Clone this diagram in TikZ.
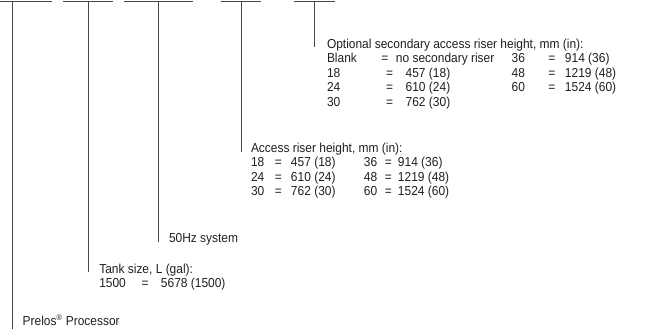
\documentclass[tikz,border=0pt]{standalone}
\usepackage{fontspec}
\setmainfont{Liberation Sans}[FakeStretch=0.92]
\begin{document}
\begin{tikzpicture}[x=1pt,y=-1pt]
\tikzset{
  lead/.style={draw=black!72, line width=0.9pt},
  lbl/.style={anchor=base west, inner sep=0pt, outer sep=0pt, font=\fontsize{13}{14.5}\selectfont, text=black!88}
}
\useasboundingbox (0,0) rectangle (649,329);
% top bars
\coordinate (b1w) at (0,1.5);     \coordinate (b1e) at (52,1.5);
\coordinate (b2w) at (63.3,1.5);  \coordinate (b2e) at (113.3,1.5);
\coordinate (b3w) at (124,1.5);   \coordinate (b3e) at (192.7,1.5);
\coordinate (b4w) at (220.7,1.5); \coordinate (b4e) at (260.7,1.5);
\coordinate (b5w) at (294,1.5);   \coordinate (b5e) at (335,1.5);
\draw[lead] (b1w) -- (b1e);
\draw[lead] (b2w) -- (b2e);
\draw[lead] (b3w) -- (b3e);
\draw[lead] (b4w) -- (b4e);
\draw[lead] (b5w) -- (b5e);
% leader tops and ends
\coordinate (t1) at (12.7,1.5);  \coordinate (e1) at (12.7,329);
\coordinate (t2) at (88.3,1.5);  \coordinate (e2) at (88.3,272);
\coordinate (t3) at (158,1.5);   \coordinate (e3) at (158,242);
\coordinate (t4) at (241,1.5);   \coordinate (e4) at (241,152);
\coordinate (t5) at (314.5,1.5); \coordinate (e5) at (314.5,47);
\draw[lead] (t1) -- (e1);
\draw[lead] (t2) -- (e2);
\draw[lead] (t3) -- (e3);
\draw[lead] (t4) -- (e4);
\draw[lead] (t5) -- (e5);
% block 1
\node[lbl] (p1) at (22.7,325) {Prelos\textsuperscript{\fontsize{8}{8}\selectfont ®} Processor};
% block 2
\node[lbl] (k1) at (99.3,273.3) {Tank size, L (gal):};
\node[lbl] (k2) at (99.3,287.8) {\makebox[42.4pt][l]{1500}\makebox[19.3pt][l]{=}5678 (1500)};
% block 3
\node[lbl] (h1) at (169,242.3) {50Hz system};
% block 4
\node[lbl] (a1) at (251,152.3) {Access riser height, mm (in):};
\node[lbl] (a2) at (251,166.8) {\makebox[24pt][l]{18}\makebox[16pt][l]{=}\makebox[73pt][l]{457 (18)}\makebox[21pt][l]{36}\makebox[13pt][l]{=}914 (36)};
\node[lbl] (a3) at (251,181.3) {\makebox[24pt][l]{24}\makebox[16pt][l]{=}\makebox[73pt][l]{610 (24)}\makebox[21pt][l]{48}\makebox[13pt][l]{=}1219 (48)};
\node[lbl] (a4) at (251,195.8) {\makebox[24pt][l]{30}\makebox[16pt][l]{=}\makebox[73pt][l]{762 (30)}\makebox[21pt][l]{60}\makebox[13pt][l]{=}1524 (60)};
% block 5
\node[lbl] (o1) at (327,48.5) {Optional secondary access riser height, mm (in):};
\node[lbl] (o2) at (327,63) {\makebox[54.5pt][l]{Blank}\makebox[14.5pt][l]{=}\makebox[115.7pt][l]{no secondary riser}\makebox[36.6pt][l]{36}\makebox[16.7pt][l]{=}914 (36)};
\node[lbl] (o3) at (327,77.5) {\makebox[59pt][l]{18}\makebox[19.7pt][l]{=}\makebox[106pt][l]{457 (18)}\makebox[36.6pt][l]{48}\makebox[16.7pt][l]{=}1219 (48)};
\node[lbl] (o4) at (327,92) {\makebox[59pt][l]{24}\makebox[19.7pt][l]{=}\makebox[106pt][l]{610 (24)}\makebox[36.6pt][l]{60}\makebox[16.7pt][l]{=}1524 (60)};
\node[lbl] (o5) at (327,106.5) {\makebox[59pt][l]{30}\makebox[19.7pt][l]{=}762 (30)};
\end{tikzpicture}
\end{document}
